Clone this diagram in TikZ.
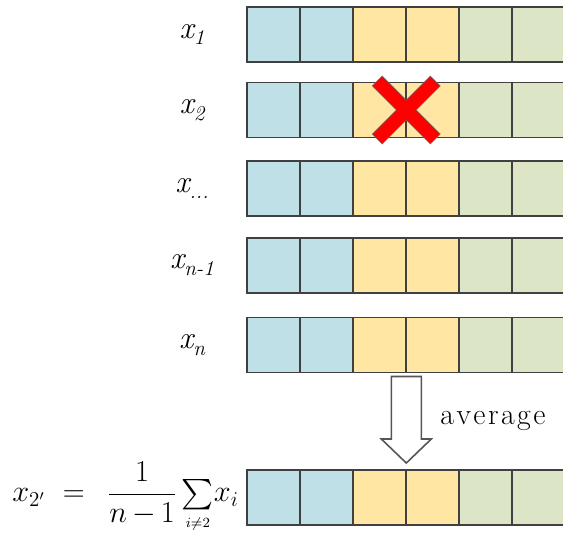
\documentclass[tikz,border=0pt]{standalone}
\usepackage{amsmath}
\usepackage{fontspec}
\usetikzlibrary{positioning,calc}
\definecolor{cellblue}{HTML}{C0E0E8}
\definecolor{cellyellow}{HTML}{FFE6A2}
\definecolor{cellgreen}{HTML}{DDE5C7}
\definecolor{cellline}{HTML}{404040}
\definecolor{crossred}{HTML}{FF0000}
\definecolor{arrowline}{HTML}{555555}
\newcommand{\rowsub}[1]{\raisebox{-0.5ex}{\fontsize{12}{13}\selectfont\itshape #1}}
\newcommand{\sk}{\kern1.4pt}
\tikzset{
  cellbox/.style={
    rectangle, draw=cellline, fill=#1, line width=1pt,
    minimum width=1.06cm, minimum height=1.1cm,
    inner sep=0pt, outer sep=0pt
  },
  cellbox/.default=cellblue,
  rowlabel/.style={
    font=\fontsize{18}{20}\selectfont\itshape, inner sep=0pt
  },
  hollowarrow/.style={
    draw=arrowline, fill=white, line width=0.9pt, line join=miter
  },
  crossmark/.style={
    fill=crossred, draw=black!60, line width=0.3pt
  },
}

\begin{document}
\begin{tikzpicture}[x=0.02cm, y=-0.02cm]
\useasboundingbox (0,0) rectangle (563,536);

% rows of cells
\foreach \name/\y in {r1/34.5, r2/110, r3/188.5, r4/265.5, r5/345, avg/497.5} {
  \foreach \c [count=\i] in {cellblue,cellblue,cellyellow,cellyellow,cellgreen,cellgreen}
    \node[cellbox=\c] (\name-\i) at ({273.8+53*(\i-1)},\y) {};
}

% row labels
\node[rowlabel] (l1) at (192,34.5) {x\rowsub{1}};
\node[rowlabel] (l2) at (192,110) {x\rowsub{2}};
\node[rowlabel] (l3) at (192,188.5) {x\rowsub{...}};
\node[rowlabel] (l4) at (192,265.5) {x\rowsub{n-1}};
\node[rowlabel] (l5) at (192,345) {x\rowsub{n}};

% red cross on x2
\coordinate (cross) at (r2-3.east);
\filldraw[crossmark, rotate around={45:(cross)}]
  ($(cross)+(-41,-7)$) -- ($(cross)+(-7,-7)$) -- ($(cross)+(-7,-41)$) --
  ($(cross)+(7,-41)$) -- ($(cross)+(7,-7)$) -- ($(cross)+(41,-7)$) --
  ($(cross)+(41,7)$) -- ($(cross)+(7,7)$) -- ($(cross)+(7,41)$) --
  ($(cross)+(-7,41)$) -- ($(cross)+(-7,7)$) -- ($(cross)+(-41,7)$) -- cycle;

% average arrow
\coordinate (arrowtop) at ($(r5-3.south east)+(0,4)$);
\coordinate (arrowtip) at ($(avg-3.north east)+(0,-7)$);
\draw[hollowarrow] ($(arrowtop)+(-15,0)$) -- ($(arrowtop)+(15,0)$)
  -- ($(arrowtip)+(15,-24)$) -- ($(arrowtip)+(25,-24)$) -- (arrowtip)
  -- ($(arrowtip)+(-25,-24)$) -- ($(arrowtip)+(-15,-24)$) -- cycle;
\node[font=\fontsize{17}{20}\selectfont, anchor=west, inner sep=0pt]
  (avglabel) at (440,421) {a\sk v\sk e\sk r\sk a\sk g\sk e};

% formula
\node[anchor=west, inner sep=0pt, font=\fontsize{17}{20}\selectfont] (formula) at (12,497.5)
  {$x_{2'}\ =\ \,\dfrac{1}{n\mkern-1mu-\mkern-1mu1}\sum\limits_{\scriptscriptstyle i\neq 2}\!x_i$};

\end{tikzpicture}
\end{document}
